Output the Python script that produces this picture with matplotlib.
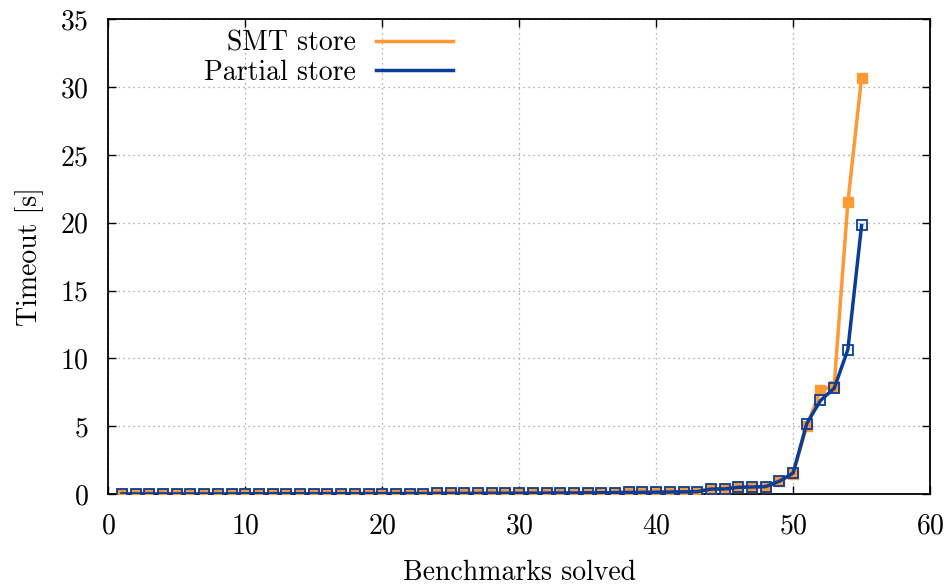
import matplotlib
matplotlib.use('Agg')
from matplotlib import pyplot as plt

plt.rcParams['font.family'] = ['cmr10', 'DejaVu Serif']
plt.rcParams['axes.formatter.use_mathtext'] = True
plt.rcParams['mathtext.fontset'] = 'cm'

solved = list(range(1, 56))
smt_store = [0.01, 0.01, 0.01, 0.01, 0.01, 0.01, 0.01, 0.01, 0.01, 0.02,
             0.02, 0.02, 0.02, 0.02, 0.02, 0.03, 0.03, 0.03, 0.03, 0.03,
             0.04, 0.04, 0.04, 0.05, 0.05, 0.05, 0.05, 0.06, 0.06, 0.06,
             0.07, 0.07, 0.08, 0.08, 0.09, 0.10, 0.11, 0.12, 0.13, 0.14,
             0.15, 0.16, 0.18, 0.37, 0.38, 0.50, 0.52, 0.55, 0.95, 1.5,
             5.0, 7.65, 8.0, 21.5, 30.7]
partial_store = [0.01, 0.01, 0.01, 0.01, 0.01, 0.01, 0.01, 0.01, 0.01, 0.02,
                 0.02, 0.02, 0.02, 0.02, 0.02, 0.03, 0.03, 0.03, 0.03, 0.03,
                 0.04, 0.04, 0.04, 0.05, 0.05, 0.05, 0.05, 0.06, 0.06, 0.06,
                 0.07, 0.07, 0.08, 0.08, 0.09, 0.10, 0.11, 0.12, 0.13, 0.14,
                 0.15, 0.16, 0.18, 0.37, 0.38, 0.50, 0.52, 0.55, 0.95, 1.55,
                 5.2, 6.9, 7.8, 10.65, 19.8]

orange = '#ff9933'
blue = '#0a3d9a'

fig = plt.figure(figsize=(9.5, 5.84), dpi=100)
ax = fig.add_axes([0.114, 0.154, 0.865, 0.813])

ax.plot(solved, smt_store, color=orange, lw=2.5, marker='s', ms=6.5,
        mfc=orange, mec=orange, label='SMT store', zorder=3)
ax.plot(solved, partial_store, color=blue, lw=2.5, marker='s', ms=7,
        mfc='none', mec=blue, mew=1.3, label='Partial store', zorder=4)

ax.set_xlim(0, 60)
ax.set_ylim(0, 35)
ax.set_xticks(range(0, 61, 10))
ax.set_yticks(range(0, 36, 5))
ax.grid(True, color='#999999', linestyle=(0, (1, 3)), lw=0.9)
ax.tick_params(direction='in', top=True, right=True, labelsize=20, length=6,
               width=1)
ax.tick_params(axis='x', pad=14)
ax.tick_params(axis='y', pad=14)
for s in ax.spines.values():
    s.set_linewidth(1.3)

ax.set_xlabel('Benchmarks solved', fontsize=20, labelpad=14)
ax.set_ylabel('Timeout [s]', fontsize=20, labelpad=12)

leg = ax.legend(loc='upper right', bbox_to_anchor=(0.42, 0.976), frameon=False,
                markerfirst=False, fontsize=20, handlelength=2.8,
                labelspacing=0.08, handletextpad=0.7, borderpad=0,
                borderaxespad=0)
for h in leg.legend_handles:
    h.set_marker('')

fig.savefig('out.png', dpi=100)
